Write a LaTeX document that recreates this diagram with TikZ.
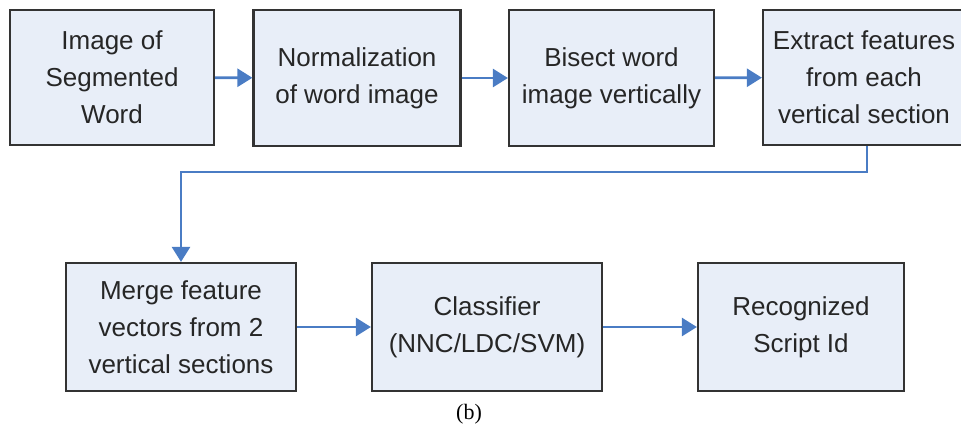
\documentclass[tikz,border=0pt]{standalone}
\usepackage{fontspec}
\setmainfont{Liberation Sans}
\newfontfamily\capfont{Liberation Serif}
\usetikzlibrary{positioning,arrows.meta}

\definecolor{boxfill}{HTML}{E8EEF8}
\definecolor{boxline}{HTML}{333333}
\definecolor{flowblue}{HTML}{4A7CC4}

\tikzset{
	stepbox/.style={draw=boxline, line width=2.2pt, fill=boxfill, align=center,
		inner sep=0pt, text=black!85, font=\fontsize{26}{37}\selectfont},
	flow/.style={draw=flowblue, line width=2.6pt,
		-{Triangle[length=15pt,width=18pt]}}
}

\begin{document}
\begin{tikzpicture}[x=1pt,y=-1pt]
	\clip (0,0) rectangle (961,429);
	%% top row
	\node[stepbox, minimum width=204pt, minimum height=135pt] (seg) at (112,77.5) {Image of\\Segmented\\Word};
	\node[stepbox, minimum width=207pt, minimum height=136pt] (norm) at (357,78) {Normalization\\of word image};
	\node[stepbox, minimum width=205pt, minimum height=136pt] (bisect) at (611.5,78) {Bisect word\\image vertically};
	\node[stepbox, minimum width=202pt, minimum height=135pt] (extract) at (864,77.5) {Extract features\\from each\\vertical section};
	%% bottom row
	\node[stepbox, minimum width=230pt, minimum height=128pt] (merge) at (181,327) {Merge feature\\vectors from 2\\vertical sections};
	\node[stepbox, minimum width=230pt, minimum height=128pt] (classify) at (487,327) {Classifier\\(NNC/LDC/SVM)};
	\node[stepbox, minimum width=206pt, minimum height=128pt] (result) at (801,327) {Recognized\\Script Id};
	\node[font=\capfont\fontsize{22}{24}\selectfont] (cap) at (469,414) {(b)};
	% connectors
	\coordinate (turnR) at (867,172);
	\coordinate (turnL) at (181,172);
	\draw[flow] (seg) -- (norm);
	\draw[flow] (norm) -- (bisect);
	\draw[flow] (bisect) -- (extract);
	\draw[flow] (extract.south -| turnR) -- (turnR) -- (turnL) -- (merge);
	\draw[flow] (merge) -- (classify);
	\draw[flow] (classify) -- (result);
\end{tikzpicture}
\end{document}
